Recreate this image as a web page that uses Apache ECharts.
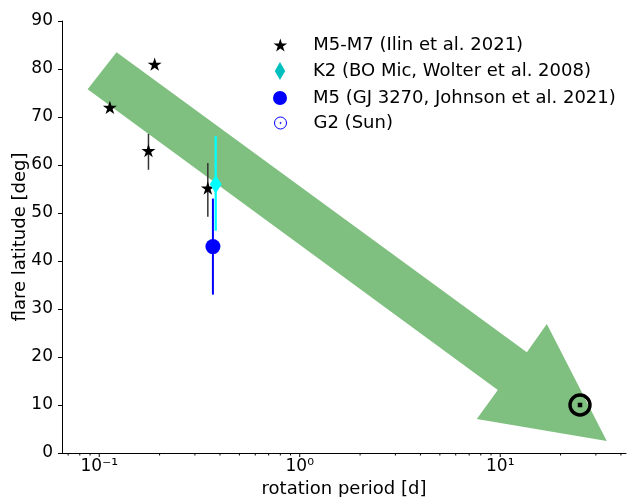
<!DOCTYPE html>
<html><head><meta charset="utf-8">
<script src="https://cdn.jsdelivr.net/npm/echarts@6/dist/echarts.min.js"></script>
<style>html,body{margin:0;padding:0;background:#fff}#c{width:627px;height:497px}</style>
</head><body><div id="c"></div>
<script>
// ---- data ----
const starName = 'M5-M7 (Ilin et al. 2021)';
const starPeriod = [0.113, 0.189, 0.176, 0.348];
const starLat = [72, 81, 63, 55.2];
const starErrLow = [null, null, 59.0, 49.2];
const starErrHigh = [null, null, 66.5, 60.4];

const k2Name = 'K2 (BO Mic, Wolter et al. 2008)';
const k2Period = [0.381];
const k2Lat = [56];
const k2ErrLow = [46.3];
const k2ErrHigh = [66];

const gjName = 'M5 (GJ 3270, Johnson et al. 2021)';
const gjPeriod = [0.369];
const gjLat = [43];
const gjErrLow = [33];
const gjErrHigh = [53];

const sunName = 'G2 (Sun)';
const sunPeriod = [25];
const sunLat = [10];

// arrow outline (period, latitude)
const arrowPeriod = [0.0875, 0.122, 13.58, 17.08, 34.0, 7.64, 9.73];
const arrowLat = [75.8, 83.5, 21.0, 26.9, 2.5, 7.1, 13.1];

// axis ticks
const xMajorTicks = [0.1, 1, 10];
const xTickLabels = ['10\u207B\u00B9', '10\u2070', '10\u00B9'];
const xMinorTicks = [0.07, 0.08, 0.09, 0.2, 0.3, 0.4, 0.5, 0.6, 0.7, 0.8, 0.9,
  2, 3, 4, 5, 6, 7, 8, 9, 20, 30, 40];

const FONT = 'DejaVu Sans';
const starPath = 'path://M0,-1L0.2245,-0.309L0.951,-0.309L0.363,0.118L0.588,0.809L0,0.382L-0.588,0.809L-0.363,0.118L-0.951,-0.309L-0.2245,-0.309Z';
const diamondPath = 'path://M0,-9L5.2,0L0,9L-5.2,0Z';
const sunPath = 'path://M0,-6A6,6 0 1,1 0,6A6,6 0 1,1 0,-6ZM0,-0.6A0.6,0.6 0 1,1 0,0.6A0.6,0.6 0 1,1 0,-0.6Z';

function errData(xs, lo, hi) {
  const out = [];
  xs.forEach((x, i) => { if (lo[i] != null) out.push([x, lo[i], hi[i]]); });
  return out;
}
function errSeries(data, color, width, z) {
  return {
    type: 'custom', z: z, silent: true, data: data,
    encode: { x: 0, y: [1, 2] },
    renderItem: (params, api) => {
      const a = api.coord([api.value(0), api.value(1)]);
      const b = api.coord([api.value(0), api.value(2)]);
      return { type: 'line', shape: { x1: a[0], y1: a[1], x2: b[0], y2: b[1] },
        style: { stroke: color, lineWidth: width } };
    }
  };
}
function tickSeries(vals, len) {
  return {
    type: 'custom', z: 5, silent: true, clip: false,
    data: vals.map(v => [v, 0]),
    renderItem: (params, api) => {
      const p = api.coord([api.value(0), 0]);
      return { type: 'line', shape: { x1: p[0], y1: p[1], x2: p[0], y2: p[1] + len },
        style: { stroke: '#000', lineWidth: 1 } };
    }
  };
}

const chart = echarts.init(document.getElementById('c'));

const legendRows = [
  { name: starName, icon: starPath, h: 13, cy: 44, itemStyle: { color: '#000' } },
  { name: k2Name, icon: diamondPath, h: 18, cy: 70, itemStyle: { color: '#00bfbf' } },
  { name: gjName, icon: 'circle', h: 14, cy: 97, itemStyle: { color: '#0000ff' } },
  { name: sunName, icon: sunPath, h: 12, cy: 122, itemStyle: { color: 'rgba(0,0,0,0)', borderColor: '#0000ff', borderWidth: 1 } }
];

const option = {
  animation: false,
  backgroundColor: '#fff',
  grid: { left: 62, right: 1, top: 21, bottom: 44, containLabel: false, outerBoundsMode: 'none' },
  legend: legendRows.map(r => ({
    data: [{ name: r.name, icon: r.icon, itemStyle: r.itemStyle }],
    left: 280 - r.h * (r.icon === diamondPath ? 0.29 : 0.5), top: r.cy - 8, padding: 0,
    itemWidth: 56, itemHeight: r.h,
    selectedMode: false,
    textStyle: { fontFamily: FONT, fontSize: 18, color: '#000' }
  })),
  xAxis: {
    type: 'log', logBase: 10, min: 0.0652, max: 42.4,
    name: 'rotation period [d]', nameLocation: 'middle', nameGap: 27, nameMoveOverlap: false,
    nameTextStyle: { fontFamily: FONT, fontSize: 18, color: '#000' },
    axisLine: { show: true, onZero: false, lineStyle: { color: '#000', width: 1 } },
    axisTick: { show: false },
    minorTick: { show: false },
    splitLine: { show: false },
    axisLabel: {
      showMinLabel: false, showMaxLabel: false, margin: 5,
      fontFamily: FONT, fontSize: 17, color: '#000',
      formatter: v => {
        for (let i = 0; i < xMajorTicks.length; i++) {
          if (Math.abs(Math.log10(v) - Math.log10(xMajorTicks[i])) < 1e-6) return xTickLabels[i];
        }
        return '';
      }
    }
  },
  yAxis: {
    type: 'value', min: 0, max: 90, interval: 10,
    name: 'flare latitude [deg]', nameLocation: 'middle', nameGap: 33, nameMoveOverlap: false,
    nameTextStyle: { fontFamily: FONT, fontSize: 18, color: '#000' },
    axisLine: { show: true, lineStyle: { color: '#000', width: 1 } },
    axisTick: { show: true, length: 4, lineStyle: { color: '#000' } },
    splitLine: { show: false },
    axisLabel: { fontFamily: FONT, fontSize: 17, color: '#000', margin: 9 }
  },
  series: [
    {
      type: 'custom', z: 1, silent: true,
      data: [[arrowPeriod[0], arrowLat[0]]],
      renderItem: (params, api) => {
        const pts = arrowPeriod.map((p, i) => api.coord([p, arrowLat[i]]));
        return { type: 'polygon', shape: { points: pts }, style: { fill: 'rgba(0,128,0,0.5)' } };
      }
    },
    tickSeries(xMajorTicks, 4),
    tickSeries(xMinorTicks, 2.5),
    errSeries(errData(starPeriod, starErrLow, starErrHigh), '#333', 1.5, 3),
    {
      name: starName, type: 'scatter', z: 4,
      symbol: starPath, symbolKeepAspect: true, symbolSize: 14,
      itemStyle: { color: '#000', opacity: 1 },
      data: starPeriod.map((p, i) => [p, starLat[i]])
    },
    errSeries(errData(gjPeriod, gjErrLow, gjErrHigh), '#0000ff', 2, 5),
    errSeries(errData(k2Period, k2ErrLow, k2ErrHigh), '#00ffff', 2.3, 6),
    {
      name: k2Name, type: 'scatter', z: 7,
      symbol: 'diamond', symbolSize: [12, 18],
      itemStyle: { color: '#00ffff', opacity: 1 },
      data: k2Period.map((p, i) => [p, k2Lat[i]])
    },
    {
      name: gjName, type: 'scatter', z: 7,
      symbol: 'circle', symbolSize: 15,
      itemStyle: { color: '#0000ff', opacity: 1 },
      data: gjPeriod.map((p, i) => [p, gjLat[i]])
    },
    {
      name: sunName, type: 'scatter', z: 7,
      symbol: 'circle', symbolSize: 20,
      itemStyle: { color: 'rgba(0,0,0,0)', borderColor: '#000', borderWidth: 3.4, opacity: 1 },
      data: sunPeriod.map((p, i) => [p, sunLat[i]])
    },
    {
      name: 'sun-dot', type: 'scatter', z: 8,
      symbol: 'rect', symbolSize: 4.5,
      itemStyle: { color: '#000', opacity: 1 },
      data: sunPeriod.map((p, i) => [p, sunLat[i]])
    }
  ]
};
chart.setOption(option);
</script>
</body></html>
